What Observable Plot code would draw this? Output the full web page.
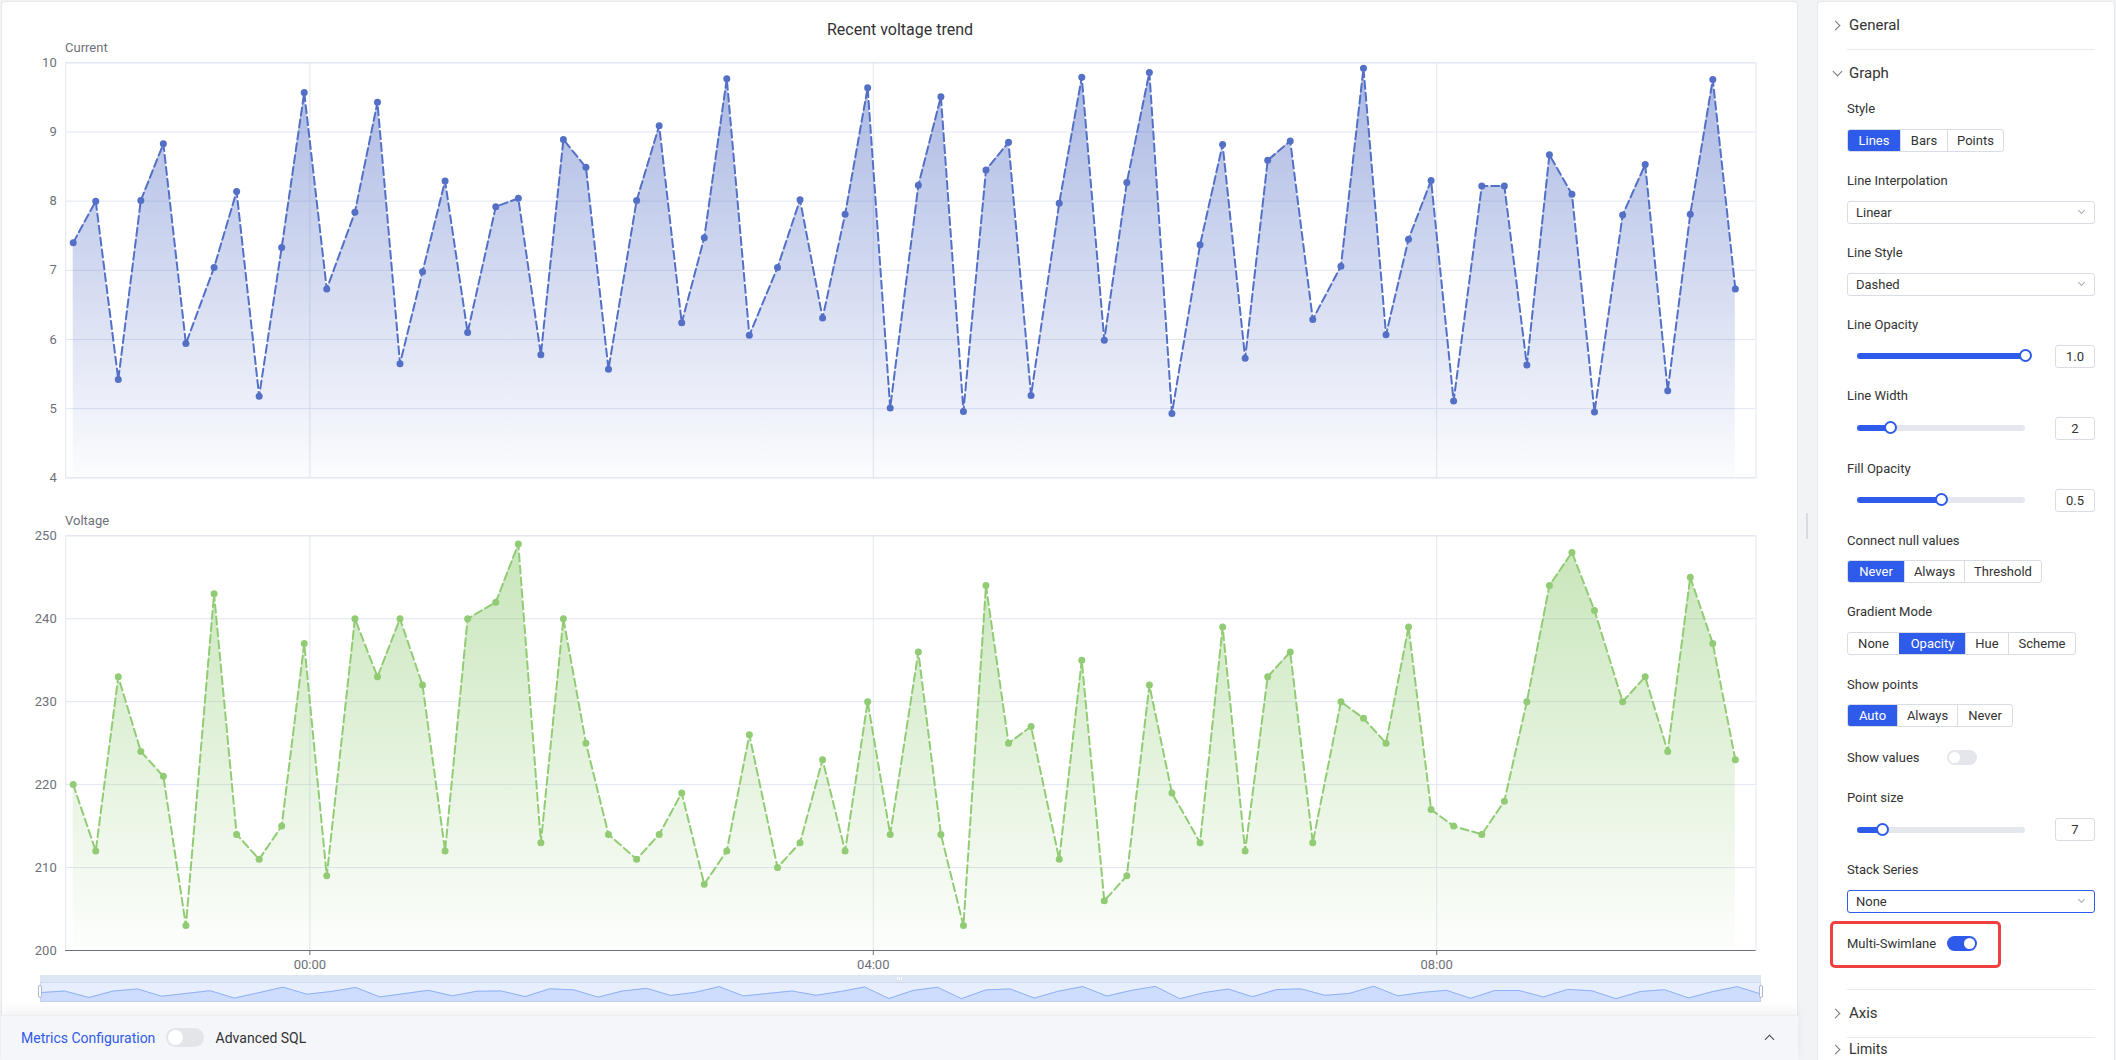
<!DOCTYPE html>
<html><head><meta charset="utf-8">
<script src="https://cdn.jsdelivr.net/npm/d3@7"></script>
<script src="https://cdn.jsdelivr.net/npm/@observablehq/plot@0.6"></script>
<style>
*{box-sizing:border-box}
body{margin:0;width:2116px;height:1060px;overflow:hidden;background:#f2f3f5;font-family:Roboto,"Liberation Sans",Arial,sans-serif;position:relative}
.a{position:absolute}
.lbl{position:absolute;left:1847px;font-size:13px;line-height:16px;color:#333;white-space:nowrap}
.sec{position:absolute;left:1849px;font-size:15px;line-height:18px;color:#333}
.chev{position:absolute;width:7px;height:7px;border-right:1.3px solid #777;border-bottom:1.3px solid #777}
.seg{position:absolute;left:1847px;height:23px;display:flex;border:1px solid #d9dce3;border-radius:3px;overflow:hidden;background:#fff}
.seg span{display:flex;align-items:center;justify-content:center;font-size:13px;color:#333;border-left:1px solid #d9dce3}
.seg span:first-child{border-left:none}
.seg span.on{background:#2f5bea;color:#fff;border-color:#2f5bea}
.sel{position:absolute;left:1847px;width:248px;height:23px;border:1px solid #d9dce3;border-radius:3px;font-size:13px;color:#333;line-height:21px;padding-left:8px;background:#fff}
.sel i{position:absolute;right:10px;top:6px;width:5px;height:5px;border-right:1px solid #aaa;border-bottom:1px solid #aaa;transform:rotate(45deg)}
.track{position:absolute;left:1857px;width:168px;height:6px;border-radius:3px;background:#e4e7ee}
.fill{position:absolute;left:0;top:0;height:6px;border-radius:3px;background:#2f5bea}
.thumb{position:absolute;width:13px;height:13px;border-radius:50%;background:#fff;border:2px solid #2f5bea}
.inp{position:absolute;left:2055px;width:40px;height:23px;border:1px solid #d9dce3;border-radius:3px;font-size:13px;color:#333;display:flex;align-items:center;justify-content:center;background:#fff}
.tog{position:absolute;width:30px;height:15px;border-radius:8px;background:#e4e6eb}
.tog b{position:absolute;top:2px;width:11px;height:11px;border-radius:50%;background:#fff}
.hr{position:absolute;left:1847px;width:248px;height:1px;background:#e8eaef}
</style></head><body>

<!-- chart card -->
<div class="a" style="left:1px;top:1px;width:1797px;height:1080px;background:#fff;border:1px solid #e6e8ec;border-radius:4px"></div>
<div class="a" style="left:0;top:19.7px;width:1800px;text-align:center;font-size:16px;line-height:20px;color:#333">Recent voltage trend</div>
<div class="a" style="left:65px;top:39.7px;font-size:13px;line-height:16px;color:#6e7079">Current</div>
<div class="a" style="left:65px;top:512.7px;font-size:13px;line-height:16px;color:#6e7079">Voltage</div>
<div id="chart1" class="a" style="left:0;top:50px"></div>
<div id="chart2" class="a" style="left:0;top:520px"></div>

<!-- data zoom slider -->
<div class="a" style="left:39.5px;top:975px;width:1721px;height:6.7px;background:rgba(210,219,238,0.7)"></div>
<div class="a" style="left:897px;top:976.5px;width:1px;height:3.5px;background:#fff"></div>
<div class="a" style="left:899px;top:976.5px;width:1px;height:3.5px;background:#fff"></div>
<div class="a" style="left:901px;top:976.5px;width:1px;height:3.5px;background:#fff"></div>
<div class="a" style="left:39.5px;top:981.7px;width:1721px;height:20px;background:rgba(135,175,255,0.2);border:1px solid #d2dbee"></div>
<div id="mini" class="a" style="left:39.5px;top:981.7px"></div>
<div class="a" style="left:37.5px;top:985px;width:4.5px;height:12.5px;border-radius:2px;background:#fff;border:1px solid #acb8d1"></div>
<div class="a" style="left:1758.5px;top:985px;width:4.5px;height:12.5px;border-radius:2px;background:#fff;border:1px solid #acb8d1"></div>

<!-- bottom config bar -->
<div class="a" style="left:1px;top:1015px;width:1797px;height:50px;background:#f5f6fa;box-shadow:0 -6px 10px rgba(0,0,0,0.05);border-top:1px solid #eceef3"></div>
<div class="a" style="left:21px;top:1029.3px;font-size:14px;line-height:18px;color:#2f5bea">Metrics Configuration</div>
<div class="a" style="left:166px;top:1028px;width:38px;height:19px;border-radius:10px;background:#e4e5e9"><b class="a" style="left:2px;top:2px;width:15px;height:15px;border-radius:50%;background:#fff"></b></div>
<div class="a" style="left:215.6px;top:1029.3px;font-size:14px;line-height:18px;color:#333">Advanced SQL</div>
<div class="chev" style="left:1766px;top:1036px;border-color:#444;transform:rotate(-135deg)"></div>

<!-- splitter -->
<div class="a" style="left:1806px;top:513px;width:2px;height:26px;background:#d9dbe0;border-radius:1px"></div>

<!-- settings panel -->
<div class="a" style="left:1817px;top:1px;width:298px;height:1080px;background:#fff;border:1px solid #e6e8ec;border-radius:4px"></div>
<div class="chev" style="left:1832px;top:21.5px;transform:rotate(-45deg)"></div>
<div class="sec" style="top:16.4px">General</div>
<div class="hr" style="top:49px"></div>
<div class="chev" style="left:1834px;top:67.5px;transform:rotate(45deg)"></div>
<div class="sec" style="top:64px">Graph</div>

<div class="lbl" style="top:100.5px">Style</div>
<div class="seg" style="top:128.5px"><span class="on" style="width:52px">Lines</span><span style="width:47px">Bars</span><span style="width:56px">Points</span></div>

<div class="lbl" style="top:172.9px">Line Interpolation</div>
<div class="sel" style="top:200.5px">Linear<i></i></div>

<div class="lbl" style="top:244.9px">Line Style</div>
<div class="sel" style="top:272.5px">Dashed<i></i></div>

<div class="lbl" style="top:316.5px">Line Opacity</div>
<div class="track" style="top:352.6px"><div class="fill" style="width:168px"></div><div class="thumb" style="left:161.5px;top:-3.5px"></div></div>
<div class="inp" style="top:344.5px">1.0</div>

<div class="lbl" style="top:388.2px">Line Width</div>
<div class="track" style="top:424.7px"><div class="fill" style="width:33px"></div><div class="thumb" style="left:26.5px;top:-3.5px"></div></div>
<div class="inp" style="top:416.5px">2</div>

<div class="lbl" style="top:460.6px">Fill Opacity</div>
<div class="track" style="top:496.7px"><div class="fill" style="width:84px"></div><div class="thumb" style="left:77.5px;top:-3.5px"></div></div>
<div class="inp" style="top:488.5px">0.5</div>

<div class="lbl" style="top:532.7px">Connect null values</div>
<div class="seg" style="top:560.3px"><span class="on" style="width:56px">Never</span><span style="width:60px">Always</span><span style="width:77px">Threshold</span></div>

<div class="lbl" style="top:604.3px">Gradient Mode</div>
<div class="seg" style="top:632.3px"><span style="width:51px">None</span><span class="on" style="width:66px">Opacity</span><span style="width:43px">Hue</span><span style="width:67px">Scheme</span></div>

<div class="lbl" style="top:676.6px">Show points</div>
<div class="seg" style="top:704.2px"><span class="on" style="width:49px">Auto</span><span style="width:60px">Always</span><span style="width:55px">Never</span></div>

<div class="lbl" style="top:749.6px">Show values</div>
<div class="tog" style="left:1947px;top:750px"><b style="left:2px"></b></div>

<div class="lbl" style="top:790.2px">Point size</div>
<div class="track" style="top:826.9px"><div class="fill" style="width:25.7px"></div><div class="thumb" style="left:19.2px;top:-3.5px"></div></div>
<div class="inp" style="top:818.2px">7</div>

<div class="lbl" style="top:862.2px">Stack Series</div>
<div class="sel" style="top:890.2px;border-color:#2f5bea">None<i></i></div>

<div class="a" style="left:1830px;top:921px;width:171px;height:47px;border:3px solid #ee4040;border-radius:5px"></div>
<div class="lbl" style="top:935.6px">Multi-Swimlane</div>
<div class="tog" style="left:1947px;top:936px;background:#2f5bea"><b style="left:17px"></b></div>

<div class="hr" style="top:989px"></div>
<div class="chev" style="left:1832px;top:1009.5px;transform:rotate(-45deg)"></div>
<div class="sec" style="top:1004px">Axis</div>
<div class="hr" style="top:1037px"></div>
<div class="chev" style="left:1832px;top:1046px;transform:rotate(-45deg)"></div>
<div class="sec" style="top:1041px;font-size:14px;line-height:17px">Limits</div>

<script>
// ---------------- data ----------------
const times = [
  "22:19:12","22:28:48","22:38:24","22:48:00","22:57:36","23:07:12",
  "23:19:12","23:28:48","23:38:24","23:48:00","23:57:36","00:07:12",
  "00:19:12","00:28:48","00:38:24","00:48:00","00:57:36","01:07:12",
  "01:19:12","01:28:48","01:38:24","01:48:00","01:57:36","02:07:12",
  "02:19:12","02:28:48","02:38:24","02:48:00","02:57:36","03:07:12",
  "03:19:12","03:28:48","03:38:24","03:48:00","03:57:36","04:07:12",
  "04:19:12","04:28:48","04:38:24","04:48:00","04:57:36","05:07:12",
  "05:19:12","05:28:48","05:38:24","05:48:00","05:57:36","06:07:12",
  "06:19:12","06:28:48","06:38:24","06:48:00","06:57:36","07:07:12",
  "07:19:12","07:28:48","07:38:24","07:48:00","07:57:36","08:07:12",
  "08:19:12","08:28:48","08:38:24","08:48:00","08:57:36","09:07:12",
  "09:19:12","09:28:48","09:38:24","09:48:00","09:57:36","10:07:12"
];
const currentValues = [
  7.40, 8.00, 5.42, 8.01, 8.83, 5.94, 7.04, 8.14, 5.18, 7.33, 9.57, 6.73,
  7.84, 9.43, 5.65, 6.98, 8.29, 6.10, 7.92, 8.04, 5.78, 8.89, 8.49, 5.57,
  8.01, 9.09, 6.24, 7.47, 9.77, 6.06, 7.04, 8.02, 6.31, 7.81, 9.64, 5.01,
  8.23, 9.51, 4.96, 8.45, 8.85, 5.19, 7.97, 9.79, 5.99, 8.27, 9.86, 4.93,
  7.37, 8.82, 5.73, 8.59, 8.87, 6.29, 7.06, 9.92, 6.07, 7.45, 8.30, 5.11,
  8.22, 8.22, 5.63, 8.67, 8.10, 4.95, 7.80, 8.53, 5.26, 7.81, 9.76, 6.73
];
const voltageValues = [
  220, 212, 233, 224, 221, 203, 243, 214, 211, 215, 237, 209,
  240, 233, 240, 232, 212, 240, 242, 249, 213, 240, 225, 214,
  211, 214, 219, 208, 212, 226, 210, 213, 223, 212, 230, 214,
  236, 214, 203, 244, 225, 227, 211, 235, 206, 209, 232, 219,
  213, 239, 212, 233, 236, 213, 230, 228, 225, 239, 217, 215,
  214, 218, 230, 244, 248, 241, 230, 233, 224, 245, 237, 223
];
const currentTicks = [4, 5, 6, 7, 8, 9, 10];
const voltageTicks = [200, 210, 220, 230, 240, 250];
const xTickTimes = ["00:00:00", "04:00:00", "08:00:00"];
const xDomainTimes = ["22:16:00", "10:16:00"];
const seriesColors = {current: "#5470c6", voltage: "#91cc75"};

// ---------------- helpers ----------------
const toDate = t => { const [h, m, s] = t.split(":").map(Number); return new Date(Date.UTC(2024, 0, h >= 12 ? 1 : 2, h, m, s)); };
const rows = times.map((t, i) => ({time: toDate(t), current: currentValues[i], voltage: voltageValues[i]}));
const xDom = xDomainTimes.map(toDate);
const xTicks = xTickTimes.map(toDate);
const FONT = "Roboto, 'Liberation Sans', Arial, sans-serif";
const GRID = "#e0e6f1", AXIS = "#6e7079";

function gradient(id, color, o0, o1) {
  return () => {
    const ns = "http://www.w3.org/2000/svg";
    const defs = document.createElementNS(ns, "defs");
    const lg = document.createElementNS(ns, "linearGradient");
    lg.setAttribute("id", id);
    lg.setAttribute("x1", "0"); lg.setAttribute("y1", "0");
    lg.setAttribute("x2", "0"); lg.setAttribute("y2", "1");
    [[0, o0], [1, o1]].forEach(([off, op]) => {
      const s = document.createElementNS(ns, "stop");
      s.setAttribute("offset", off);
      s.setAttribute("stop-color", color);
      s.setAttribute("stop-opacity", op);
      lg.appendChild(s);
    });
    defs.appendChild(lg);
    return defs;
  };
}

function lane({key, ticks, color, gradId, height, marginTop, marginBottom, showX}) {
  const domain = [ticks[0], ticks[ticks.length - 1]];
  const marks = [
    gradient(gradId, color, 0.5, 0.02),
    Plot.gridY(ticks, {stroke: GRID, strokeOpacity: 1}),
    Plot.gridX(xTicks, {stroke: GRID, strokeOpacity: 1}),
    Plot.frame({stroke: GRID}),
    Plot.areaY(rows, {x: "time", y1: domain[0], y2: key, fill: `url(#${gradId})`}),
    Plot.lineY(rows, {x: "time", y: key, stroke: color, strokeWidth: 2, strokeDasharray: "8,4"}),
    Plot.dot(rows, {x: "time", y: key, r: 3.5, fill: color}),
    Plot.axisY(ticks, {tickSize: 0, tickPadding: 9, fontSize: 13, color: AXIS, label: null, tickFormat: d => String(d)})
  ];
  if (showX) {
    marks.push(Plot.ruleY([domain[0]], {stroke: AXIS}));
    marks.push(Plot.axisX(xTicks, {tickSize: 5, tickPadding: 4, fontSize: 13, color: AXIS, label: null, tickFormat: d3.utcFormat("%H:%M")}));
  }
  return Plot.plot({
    width: 1800, height, marginLeft: 65.2, marginRight: 44.5, marginTop, marginBottom,
    style: {background: "none", fontFamily: FONT, overflow: "visible"},
    x: {type: "utc", domain: xDom, axis: showX ? undefined : null},
    y: {domain},
    marks
  });
}

document.getElementById("chart1").appendChild(lane({
  key: "current", ticks: currentTicks, color: seriesColors.current, gradId: "gCurrent",
  height: 440, marginTop: 12.3, marginBottom: 12.7, showX: false
}));
document.getElementById("chart2").appendChild(lane({
  key: "voltage", ticks: voltageTicks, color: seriesColors.voltage, gradId: "gVoltage",
  height: 460, marginTop: 15.3, marginBottom: 30, showX: true
}));

// data-zoom shadow (first series, index spaced)
const ext = d3.extent(currentValues);
const pad = (ext[1] - ext[0]) * 0.3;
const miniDom = [ext[0] - pad, ext[1] + pad];
document.getElementById("mini").appendChild(Plot.plot({
  width: 1721, height: 20, margin: 0,
  style: {background: "none", overflow: "visible"},
  x: {domain: [0, currentValues.length - 1], axis: null},
  y: {domain: miniDom, axis: null},
  marks: [
    Plot.areaY(currentValues, {x: (d, i) => i, y1: miniDom[0], y2: d => d, fill: "#8fb0f7", fillOpacity: 0.28}),
    Plot.lineY(currentValues, {x: (d, i) => i, y: d => d, stroke: "#8fb0f7", strokeWidth: 1})
  ]
}));
</script>
</body></html>
